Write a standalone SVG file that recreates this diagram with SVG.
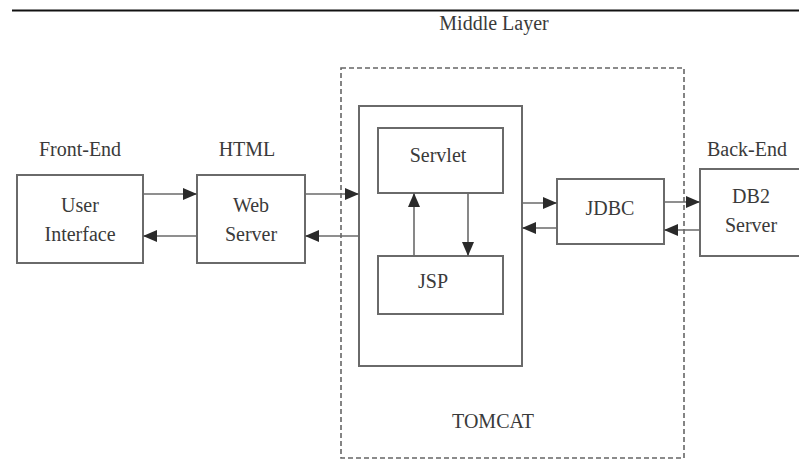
<svg xmlns="http://www.w3.org/2000/svg" width="799" height="461" viewBox="0 0 799 461">
<style>
.box{fill:#fff;stroke:#6a6a6a;stroke-width:2}
.t{font-family:"Liberation Serif",serif;font-size:20px;fill:#3a3a3a;text-anchor:middle}
.c{stroke:#6a6a6a;stroke-width:1.6;fill:none}
</style>
<defs>
<marker id="ah" viewBox="0 0 14 12" refX="14" refY="6" markerWidth="14" markerHeight="12" markerUnits="userSpaceOnUse" orient="auto">
<path d="M0,0 L14,6 L0,12 Z" fill="#2a2a2a"/>
</marker>
</defs>
<rect width="799" height="461" fill="#fff"/>
<line x1="12" y1="10.5" x2="799" y2="10.5" stroke="#111" stroke-width="2"/>
<g id="middle-layer">
<rect x="341" y="68" width="343" height="390" fill="none" stroke="#666" stroke-width="1.6" stroke-dasharray="5,3"/>
<text class="t" x="494" y="30">Middle Layer</text>
</g>
<text class="t" x="80" y="156">Front-End</text>
<text class="t" x="247" y="156">HTML</text>
<text class="t" x="747" y="156">Back-End</text>
<g id="tomcat">
<rect class="box" x="359" y="106" width="163" height="260"/>
<text class="t" x="493" y="428">TOMCAT</text>
</g>
<g id="servlet">
<rect class="box" x="378" y="128" width="125" height="65"/>
<text class="t" x="438" y="162">Servlet</text>
</g>
<g id="jsp">
<rect class="box" x="378" y="256" width="125" height="58"/>
<text class="t" x="433" y="288">JSP</text>
</g>
<g id="user-interface">
<rect class="box" x="17" y="175" width="126" height="88"/>
<text class="t" x="80" y="212">User</text>
<text class="t" x="80" y="241">Interface</text>
</g>
<g id="web-server">
<rect class="box" x="197" y="175" width="108" height="88"/>
<text class="t" x="251" y="212">Web</text>
<text class="t" x="251" y="241">Server</text>
</g>
<g id="jdbc">
<rect class="box" x="557" y="179" width="107" height="65"/>
<text class="t" x="610" y="215">JDBC</text>
</g>
<g id="db2-server">
<rect class="box" x="700" y="169" width="110" height="87"/>
<text class="t" x="751" y="203">DB2</text>
<text class="t" x="751" y="232">Server</text>
</g>
<g id="connectors">
<line class="c" x1="143" y1="194" x2="197" y2="194" marker-end="url(#ah)"/>
<line class="c" x1="197" y1="236" x2="143" y2="236" marker-end="url(#ah)"/>
<line class="c" x1="305" y1="194" x2="359" y2="194" marker-end="url(#ah)"/>
<line class="c" x1="359" y1="236" x2="305" y2="236" marker-end="url(#ah)"/>
<line class="c" x1="414" y1="256" x2="414" y2="193" marker-end="url(#ah)"/>
<line class="c" x1="468" y1="193" x2="468" y2="256" marker-end="url(#ah)"/>
<line class="c" x1="522" y1="203" x2="557" y2="203" marker-end="url(#ah)"/>
<line class="c" x1="557" y1="228" x2="522" y2="228" marker-end="url(#ah)"/>
<line class="c" x1="664" y1="202" x2="700" y2="202" marker-end="url(#ah)"/>
<line class="c" x1="700" y1="230" x2="664" y2="230" marker-end="url(#ah)"/>
</g>
</svg>
